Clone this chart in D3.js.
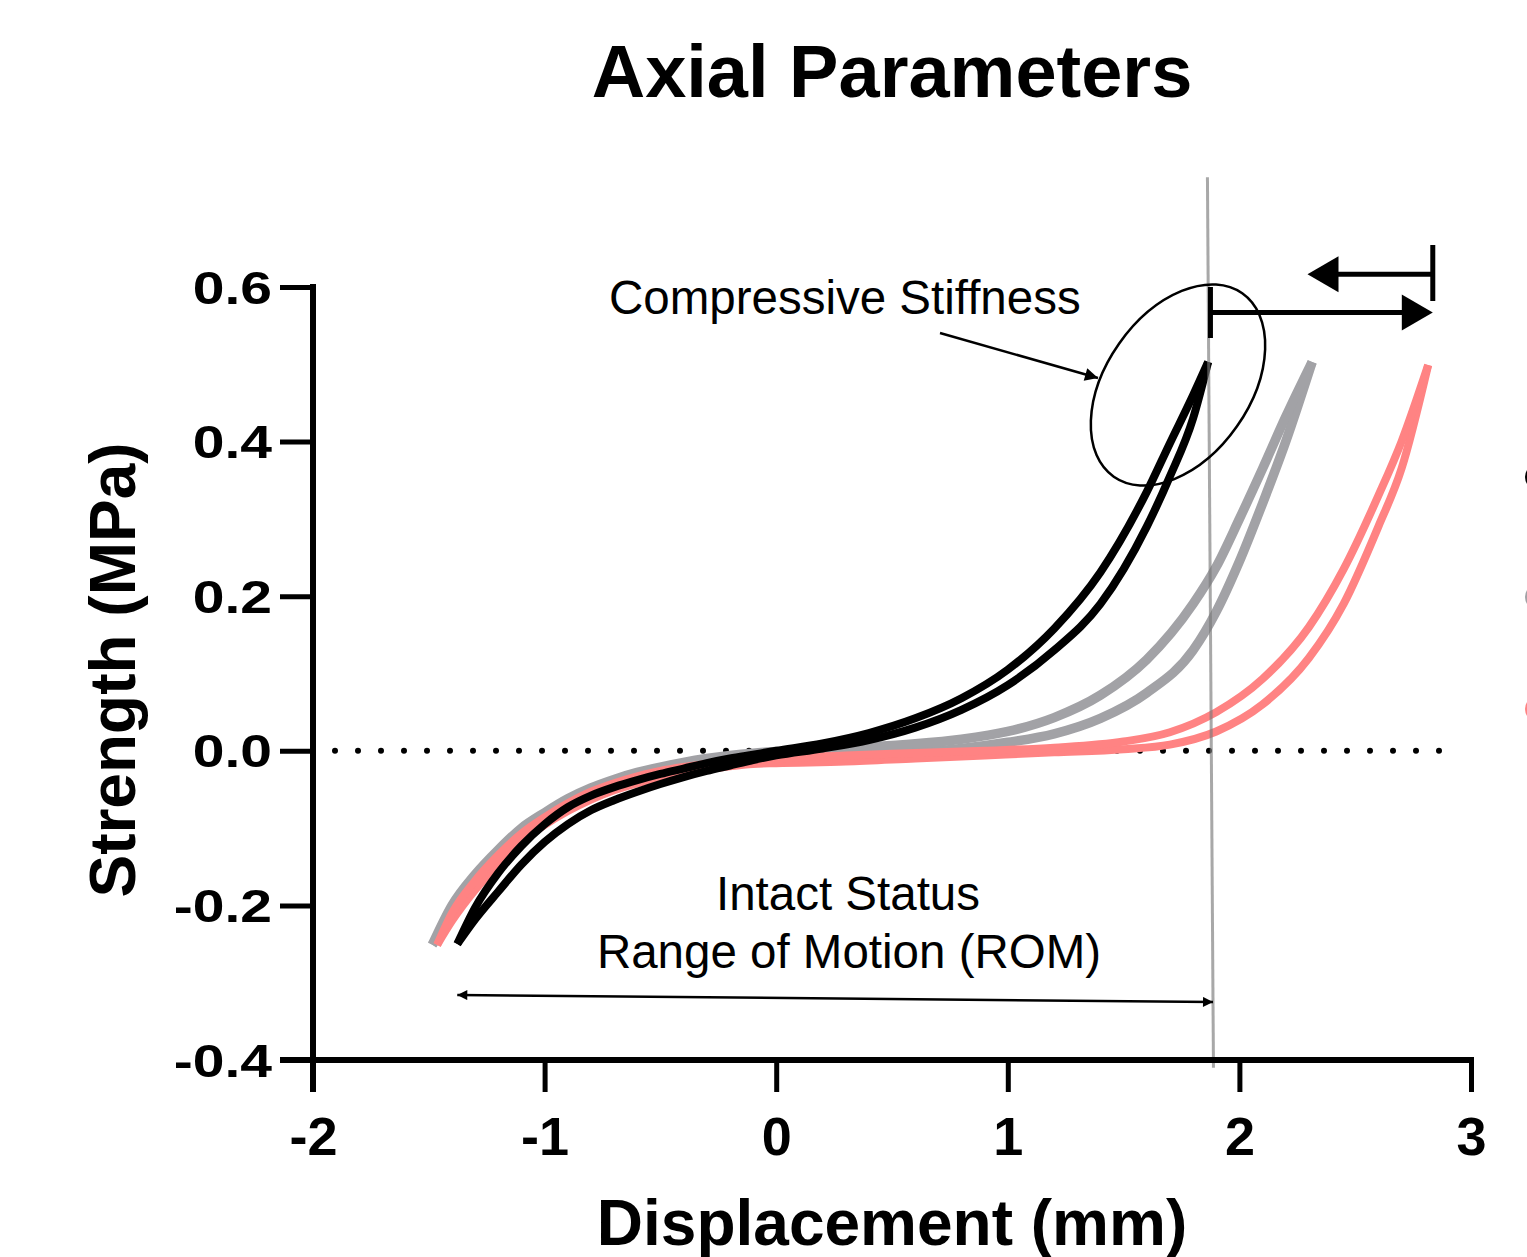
<!DOCTYPE html>
<html>
<head>
<meta charset="utf-8">
<script src="https://cdn.jsdelivr.net/npm/d3@7"></script>
<style>
  body { margin: 0; background: #fff; }
  text { font-family: "Liberation Sans", Arial, sans-serif; }
</style>
</head>
<body>
<svg id="chart"></svg>
<script>
// ---- data ----
const xTicks = [-2, -1, 0, 1, 2, 3];
const yTicks = [-0.4, -0.2, 0, 0.2, 0.4, 0.6];

// black loop (intact)
const blackX     = [-1.377, -1.3, -1.2, -1.1, -1.0, -0.9, -0.8, -0.7, -0.6, -0.5, -0.4, -0.3, -0.2, -0.1, 0, 0.2, 0.4, 0.6, 0.8, 1.0, 1.2, 1.4, 1.6, 1.7, 1.8, 1.865];
const blackUpper = [-0.25, -0.203, -0.158, -0.123, -0.095, -0.073, -0.058, -0.047, -0.038, -0.03, -0.023, -0.016, -0.01, -0.005, 0.0, 0.0096, 0.023, 0.042, 0.068, 0.105, 0.158, 0.231, 0.335, 0.398, 0.46, 0.503];
const blackLower = [-0.25, -0.218, -0.182, -0.147, -0.118, -0.095, -0.077, -0.064, -0.053, -0.043, -0.034, -0.026, -0.019, -0.012, -0.006, 0.003, 0.014, 0.03, 0.053, 0.085, 0.13, 0.19, 0.29, 0.355, 0.43, 0.503];

// gray loop
const grayX     = [-1.485, -1.4, -1.3, -1.2, -1.1, -1.0, -0.9, -0.8, -0.7, -0.6, -0.5, -0.4, -0.3, -0.2, -0.1, 0, 0.2, 0.4, 0.6, 0.8, 1.0, 1.2, 1.4, 1.6, 1.8, 1.9, 2.0, 2.1, 2.2, 2.314];
const grayUpper = [-0.251, -0.2, -0.16, -0.128, -0.1, -0.08, -0.062, -0.048, -0.037, -0.028, -0.021, -0.015, -0.01, -0.006, -0.003, -0.001, 0.002, 0.005, 0.009, 0.015, 0.025, 0.043, 0.072, 0.118, 0.19, 0.238, 0.3, 0.365, 0.432, 0.503];
const grayLower = [-0.251, -0.215, -0.175, -0.14, -0.111, -0.09, -0.072, -0.057, -0.045, -0.036, -0.029, -0.022, -0.017, -0.013, -0.01, -0.009, -0.007, -0.005, -0.002, 0.003, 0.011, 0.022, 0.042, 0.075, 0.13, 0.18, 0.245, 0.32, 0.4, 0.503];

// pink loop
const pinkX     = [-1.464, -1.4, -1.3, -1.2, -1.1, -1.0, -0.9, -0.8, -0.7, -0.6, -0.5, -0.4, -0.3, -0.2, -0.1, 0, 0.3, 0.6, 0.9, 1.2, 1.5, 1.7, 1.9, 2.1, 2.3, 2.45, 2.6, 2.7, 2.815];
const pinkUpper = [-0.251, -0.21, -0.168, -0.135, -0.107, -0.086, -0.068, -0.053, -0.042, -0.033, -0.026, -0.021, -0.017, -0.014, -0.012, -0.01, -0.006, -0.003, 0.0, 0.004, 0.012, 0.024, 0.05, 0.093, 0.16, 0.235, 0.33, 0.4, 0.499];
const pinkLower = [-0.251, -0.22, -0.18, -0.147, -0.118, -0.096, -0.078, -0.063, -0.051, -0.042, -0.035, -0.029, -0.024, -0.02, -0.017, -0.016, -0.014, -0.01, -0.006, -0.002, 0.002, 0.008, 0.025, 0.06, 0.12, 0.19, 0.29, 0.365, 0.499];

const seriesColors = ["#000000", "#a2a2a6", "#ff8383"];

const W = 1527, H = 1257;

const svg = d3.select("#chart").attr("width", W).attr("height", H);

const x = d3.scaleLinear().domain([-2, 3]).range([313, 1471]);
const y = d3.scaleLinear().domain([-0.4, 0.6]).range([1060, 287]);

// title
svg.append("text")
  .attr("x", 892).attr("y", 97)
  .attr("text-anchor", "middle")
  .style("font-size", "74px").style("font-weight", "bold")
  .text("Axial Parameters");

// zero reference (dotted)
svg.append("line")
  .attr("x1", x(-1.905)).attr("x2", x(2.93))
  .attr("y1", y(0)).attr("y2", y(0))
  .attr("stroke", "#000").attr("stroke-width", 6)
  .attr("stroke-linecap", "round")
  .attr("stroke-dasharray", "0 23");

// loops: loading / unloading branch of each curve
const line = d3.line().x(d => x(d[0])).y(d => y(d[1])).curve(d3.curveMonotoneX);
const loops = [
  { xs: grayX,  up: grayUpper,  lo: grayLower,  color: seriesColors[1], w: 9.5 },
  { xs: pinkX,  up: pinkUpper,  lo: pinkLower,  color: seriesColors[2], w: 8 },
  { xs: blackX, up: blackUpper, lo: blackLower, color: seriesColors[0], w: 8 }
];
loops.forEach(function (s) {
  [s.lo, s.up].forEach(function (branch) {
    svg.append("path")
      .attr("d", line(s.xs.map((v, i) => [v, branch[i]])))
      .attr("fill", "none")
      .attr("stroke", s.color)
      .attr("stroke-width", s.w)
      .attr("stroke-linejoin", "round");
  });
});

// vertical reference line at intact max displacement
svg.append("line")
  .attr("x1", x(1.862)).attr("y1", y(0.742))
  .attr("x2", x(1.888)).attr("y2", y(-0.41))
  .attr("stroke", "#7a7a7a").attr("stroke-opacity", 0.65).attr("stroke-width", 3);

// axes
const yAxis = svg.append("g")
  .attr("transform", "translate(313,0)")
  .call(d3.axisLeft(y).tickValues(yTicks).tickSize(33).tickSizeOuter(0)
    .tickFormat(d => d3.format(".1f")(d).replace("\u2212", "-")));
yAxis.select(".domain").remove();
yAxis.selectAll(".tick line").attr("stroke-width", 5);
yAxis.selectAll(".tick text")
  .attr("x", 0).attr("dy", null).attr("y", 0)
  .attr("transform", "translate(-41,16) scale(1.24,1)")
  .style("font-size", "46px").style("font-weight", "bold");

const xAxis = svg.append("g")
  .attr("transform", "translate(0,1060)")
  .call(d3.axisBottom(x).tickValues(xTicks).tickSize(32).tickSizeOuter(0)
    .tickFormat(d => String(d)));
xAxis.select(".domain").remove();
xAxis.selectAll(".tick line").attr("stroke-width", 5);
xAxis.selectAll(".tick text")
  .attr("dy", null).attr("y", 95)
  .style("font-size", "54px").style("font-weight", "bold");

// axis lines
svg.append("line").attr("x1", 313).attr("x2", 313).attr("y1", 284).attr("y2", 1092)
  .attr("stroke", "#000").attr("stroke-width", 6);
svg.append("line").attr("x1", 280).attr("x2", 1474).attr("y1", 1060).attr("y2", 1060)
  .attr("stroke", "#000").attr("stroke-width", 6);

// axis titles
svg.append("text")
  .attr("x", 892).attr("y", 1245)
  .attr("text-anchor", "middle")
  .style("font-size", "64px").style("font-weight", "bold")
  .text("Displacement (mm)");
svg.append("text")
  .attr("transform", "translate(135,670) rotate(-90)")
  .attr("text-anchor", "middle")
  .style("font-size", "64px").style("font-weight", "bold")
  .text("Strength (MPa)");

// markers
const defs = svg.append("defs");
defs.append("marker")
  .attr("id", "headBig").attr("viewBox", "0 0 10 10")
  .attr("refX", 10).attr("refY", 5)
  .attr("markerUnits", "userSpaceOnUse")
  .attr("markerWidth", 18).attr("markerHeight", 13)
  .attr("orient", "auto-start-reverse")
  .append("path").attr("d", "M0,0L10,5L0,10z").attr("fill", "#000");
defs.append("marker")
  .attr("id", "headSmall").attr("viewBox", "0 0 10 10")
  .attr("refX", 10).attr("refY", 5)
  .attr("markerUnits", "userSpaceOnUse")
  .attr("markerWidth", 15).attr("markerHeight", 10)
  .attr("orient", "auto-start-reverse")
  .append("path").attr("d", "M0,0L10,5L0,10z").attr("fill", "#000");

// compressive stiffness annotation
svg.append("text")
  .attr("x", 609).attr("y", 314)
  .style("font-size", "47.5px")
  .text("Compressive Stiffness");
svg.append("line")
  .attr("x1", 940).attr("y1", 333).attr("x2", 1098).attr("y2", 378)
  .attr("stroke", "#000").attr("stroke-width", 2.5)
  .attr("marker-end", "url(#headBig)");
svg.append("ellipse")
  .attr("transform", "translate(1178,385) rotate(-55)")
  .attr("rx", 112).attr("ry", 72)
  .attr("fill", "none").attr("stroke", "#000").attr("stroke-width", 2.5);

// ROM annotation
svg.append("text")
  .attr("x", 848).attr("y", 910).attr("text-anchor", "middle")
  .style("font-size", "47.5px").text("Intact Status");
svg.append("text")
  .attr("x", 849).attr("y", 968).attr("text-anchor", "middle")
  .style("font-size", "47.5px").text("Range of Motion (ROM)");
svg.append("line")
  .attr("x1", x(blackX[0])).attr("y1", 995)
  .attr("x2", 1213).attr("y2", 1002)
  .attr("stroke", "#000").attr("stroke-width", 2.5)
  .attr("marker-start", "url(#headSmall)")
  .attr("marker-end", "url(#headSmall)");

// bracket arrows between loop peaks
function bracket(xFrom, xTo, yv, barTop, barBot) {
  const x0 = x(xFrom), x1 = x(xTo), yy = y(yv);
  const dir = x1 > x0 ? 1 : -1;
  svg.append("line").attr("x1", x0).attr("x2", x0).attr("y1", barTop).attr("y2", barBot)
    .attr("stroke", "#000").attr("stroke-width", 5);
  svg.append("line").attr("x1", x0).attr("x2", x1 - dir * 28).attr("y1", yy).attr("y2", yy)
    .attr("stroke", "#000").attr("stroke-width", 5);
  svg.append("path")
    .attr("d", `M${x1},${yy}L${x1 - dir * 31},${yy - 18}L${x1 - dir * 31},${yy + 18}Z`)
    .attr("fill", "#000");
}
bracket(blackX[blackX.length - 1] + 0.01, pinkX[pinkX.length - 1] + 0.02, 0.567, 287, 338);
bracket(pinkX[pinkX.length - 1] + 0.02, grayX[grayX.length - 1] - 0.02, 0.6165, 245, 301);

// legend markers (clipped at the right edge)
svg.selectAll(".legendDot")
  .data(seriesColors)
  .enter().append("circle")
  .attr("class", "legendDot")
  .attr("cx", 1538)
  .attr("cy", (d, i) => [477, 597, 709][i])
  .attr("r", 13)
  .attr("fill", d => d);
</script>
</body>
</html>
